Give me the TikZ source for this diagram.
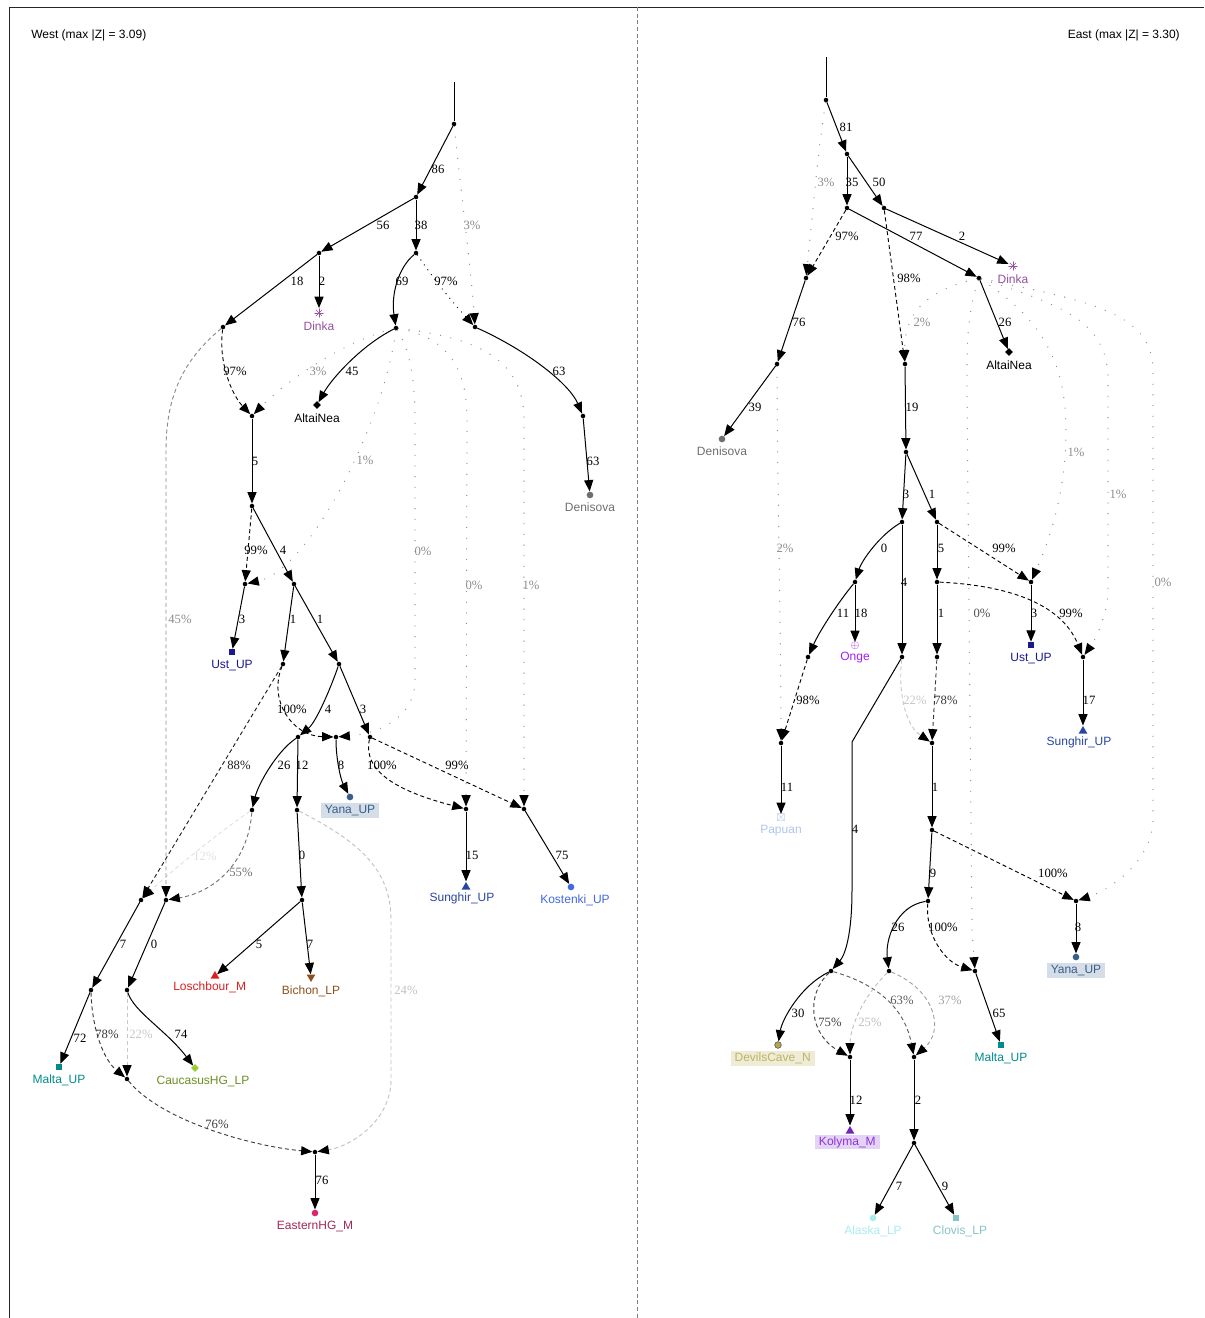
\documentclass[tikz,border=0pt]{standalone}
\usepackage{fontspec}
\setmainfont{Liberation Serif}
\setsansfont{Liberation Sans}
\usepackage{amssymb}
\usetikzlibrary{arrows.meta,positioning,shapes.geometric}

\definecolor{dinka}{RGB}{150,80,160}
\definecolor{ust}{RGB}{25,25,140}
\definecolor{deni}{RGB}{110,110,110}
\definecolor{yana}{RGB}{55,95,135}
\definecolor{yanabg}{RGB}{213,222,232}
\definecolor{sung}{RGB}{40,70,160}
\definecolor{kost}{RGB}{65,105,225}
\definecolor{losch}{RGB}{220,30,30}
\definecolor{bich}{RGB}{140,80,30}
\definecolor{malta}{RGB}{0,139,139}
\definecolor{cauc}{RGB}{154,205,50}
\definecolor{cauct}{RGB}{107,142,35}
\definecolor{ehg}{RGB}{215,40,110}
\definecolor{ehgt}{RGB}{160,40,90}
\definecolor{onge}{RGB}{160,32,240}
\definecolor{papu}{RGB}{176,196,236}
\definecolor{devil}{RGB}{180,165,80}
\definecolor{devilt}{RGB}{190,180,100}
\definecolor{devilbg}{RGB}{238,236,214}
\definecolor{koly}{RGB}{110,40,180}
\definecolor{kolyt}{RGB}{140,50,220}
\definecolor{kolybg}{RGB}{229,211,245}
\definecolor{alas}{RGB}{170,235,240}
\definecolor{clov}{RGB}{135,195,200}

\tikzset{
  pop/.style={circle, fill, inner sep=0pt, minimum size=3.4pt},
  stem/.style={line width=0.75pt},
  drift/.style={line width=0.75pt, -{Triangle[length=8.5pt,width=6.8pt]}},
  mix/.style={draw=black!#1, line width=0.7pt, dash pattern=on 3pt off 2.2pt,
    -{Triangle[length=8.5pt,width=6.8pt,color=black]}},
  trace/.style={draw=black!45, line width=1pt, line cap=round, dash pattern=on 0pt off 8pt,
    -{Triangle[length=8.5pt,width=6.8pt,color=black]}},
  dotline/.style={trace, draw=black, dash pattern=on 0pt off 4.5pt},
  num/.style={font=\fontsize{9.5}{10}\selectfont, inner sep=0pt},
  pct/.style={num, text=black!#1},
  title/.style={font=\sffamily\fontsize{9}{10}\selectfont, inner sep=0pt},
  tag/.style={font=\sffamily\fontsize{9}{10}\selectfont, inner sep=1pt, inner xsep=3pt,
    text height=7pt, text depth=2pt},
  dotm/.style={circle, fill=#1, inner sep=0pt, minimum size=5pt},
  boxm/.style={rectangle, fill=#1, inner sep=0pt, minimum size=4.5pt},
  diam/.style={diamond, fill=#1, inner sep=0pt, minimum size=6pt},
  upm/.style={regular polygon, regular polygon sides=3, fill=#1, inner sep=0pt, minimum size=7.5pt},
  downm/.style={upm=#1, shape border rotate=180},
  spokes/.style={circle, inner sep=0pt, minimum size=7pt,
    path picture={\foreach \a in {0,45,90,135}
      \draw[#1, line width=0.45pt] (path picture bounding box.center) ++(\a:3.5pt) -- ++(\a+180:7pt);}},
}

\begin{document}
\begin{tikzpicture}[x=0.75pt, y=-0.75pt]
\useasboundingbox (0,0) rectangle (1204,1318);

% frame
\draw[black!85, line width=0.6pt] (9,1318) -- (9,7) -- (1204,7);
\draw[black!50, line width=0.6pt, dash pattern=on 3pt off 2pt] (637,7) -- (637,1318);
\node[title, anchor=west] (wtitle) at (31,35) {West (max |Z| = 3.09)};
\node[title, anchor=east] (etitle) at (1180,35) {East (max |Z| = 3.30)};

%%% West
\coordinate (wtop) at (454,82);
\node[pop] (wr) at (454,124) {};
\node[pop] (wa) at (416,197) {};
\node[pop] (wb) at (416,253) {};
\node[pop] (wc) at (319,253) {};
\node[pop] (wd) at (223,327) {};
\node[pop] (we) at (396,328) {};
\node[pop] (wm1) at (475,327) {};
\node[pop] (wf) at (583,416) {};
\node[pop] (wm2) at (252,416) {};
\node[pop] (wg) at (252,506) {};
\node[pop] (wm3) at (245,584) {};
\node[pop] (wh) at (294,584) {};
\node[pop] (wi) at (283,664) {};
\node[pop] (wj) at (339,664) {};
\node[pop] (wk) at (298,737) {};
\node[pop] (wm5) at (336,737) {};
\node[pop] (wl) at (370,737) {};
\node[pop] (wn) at (252,810) {};
\node[pop] (wo) at (297,810) {};
\node[pop] (wm6) at (466,809) {};
\node[pop] (wm8) at (524,809) {};
\node[pop] (wm7) at (141,900) {};
\node[pop] (wm9) at (166,900) {};
\node[pop] (ws) at (302,900) {};
\node[pop] (wp) at (91,990) {};
\node[pop] (wq) at (127,990) {};
\node[pop] (wm10) at (127,1079) {};
\node[pop] (wm11) at (315,1152) {};

% leaves
\node[spokes=dinka] (wdinka) at (319,313) {};
\node[tag, text=dinka, below=1.5pt of wdinka] (wdinka-t) {Dinka};
\node[diam=black] (waltai) at (317,405) {};
\node[tag, below=1.5pt of waltai] (waltai-t) {AltaiNea};
\node[dotm=deni] (wdeni) at (590,495) {};
\node[tag, text=deni, below=1.5pt of wdeni] (wdeni-t) {Denisova};
\node[boxm=ust] (wust) at (232,652) {};
\node[tag, text=ust, below=1.5pt of wust] (wust-t) {Ust\_UP};
\node[dotm=yana] (wyana) at (350,797) {};
\node[tag, text=yana, fill=yanabg, below=1.5pt of wyana] (wyana-t) {Yana\_UP};
\node[upm=sung] (wsung) at (466,887) {};
\node[tag, text=sung, below=0.5pt of wsung, xshift=-3pt] (wsung-t) {Sunghir\_UP};
\node[dotm=kost] (wkost) at (571,887) {};
\node[tag, text=kost, below=1.5pt of wkost, xshift=3pt] (wkost-t) {Kostenki\_UP};
\node[upm=losch] (wlosch) at (215,976) {};
\node[tag, text=losch, below=0.5pt of wlosch, xshift=-4pt] (wlosch-t) {Loschbour\_M};
\node[downm=bich] (wbich) at (311,977) {};
\node[tag, text=bich, below=1pt of wbich] (wbich-t) {Bichon\_LP};
\node[boxm=malta] (wmalta) at (59,1067) {};
\node[tag, text=malta, below=1.5pt of wmalta] (wmalta-t) {Malta\_UP};
\node[diam=cauc] (wcauc) at (195,1068) {};
\node[tag, text=cauct, below=1pt of wcauc, xshift=6pt] (wcauc-t) {CaucasusHG\_LP};
\node[dotm=ehg] (wehg) at (315,1213) {};
\node[tag, text=ehgt, below=1.5pt of wehg] (wehg-t) {EasternHG\_M};

% edges
\draw[stem] (wtop) -- (wr);
\draw[drift] (wr) -- (wa) node[num, at={(438,169)}] {86};
\draw[drift] (wa) -- (wc) node[num, at={(383,225)}] {56};
\draw[drift] (wa) -- (wb) node[num, at={(421,225)}] {38};
\draw[trace] (wr) .. controls (462,200) and (472,280) .. (wm1) node[pct=45, at={(472,225)}] {3\%};
\draw[drift] (wc) -- (wdinka) node[num, at={(322,281)}] {2};
\draw[drift] (wc) -- (wd) node[num, at={(297,281)}] {18};
\draw[drift] (wb) .. controls (398,268) and (391,295) .. (we) node[num, at={(402,281)}] {69};
\draw[dotline] (wb) .. controls (438,285) and (455,305) .. (wm1) node[num, at={(446,281)}] {97\%};
\draw[drift] (wm1) .. controls (530,352) and (570,385) .. (wf) node[num, at={(559,371)}] {63};
\draw[drift] (wf) -- (wdeni) node[num, at={(593,461)}] {63};
\draw[drift] (we) .. controls (362,345) and (332,378) .. (waltai) node[num, at={(352,371)}] {45};
\draw[mix=97] (wd) .. controls (218,362) and (232,395) .. (wm2) node[pct=97, at={(235,371)}] {97\%};
\draw[trace] (we) .. controls (340,342) and (282,385) .. (wm2) node[pct=45, at={(318,371)}] {3\%};
\draw[drift] (wm2) -- (wg) node[num, at={(255,461)}] {5};
\draw[mix=99] (wg) -- (wm3) node[pct=99, at={(256,550)}] {99\%};
\draw[trace] (we) .. controls (385,420) and (310,570) .. (wm3) node[pct=45, at={(365,460)}] {1\%};
\draw[drift] (wg) -- (wh) node[num, at={(283,550)}] {4};
\draw[drift] (wm3) -- (wust) node[num, at={(242,619)}] {3};
\draw[drift] (wh) -- (wi) node[num, at={(293,619)}] {1};
\draw[drift] (wh) -- (wj) node[num, at={(320,619)}] {1};
\draw[mix=100] (wi) .. controls (268,700) and (292,736) .. (wm5) node[pct=100, at={(292,709)}] {100\%};
\draw[trace] (we) .. controls (410,350) and (415,380) .. (415,420) -- (415,680)
  .. controls (415,720) and (375,734) .. (wm5) node[pct=45, at={(423,551)}] {0\%};
\draw[trace] (we) .. controls (450,338) and (467,370) .. (467,420) -- (wm6) node[pct=45, at={(474,585)}] {0\%};
\draw[trace] (we) .. controls (480,338) and (524,360) .. (524,420) -- (wm8) node[pct=45, at={(531,585)}] {1\%};
\draw[drift] (wj) .. controls (330,690) and (316,722) .. (wk) node[num, at={(328,709)}] {4};
\draw[drift] (wj) -- (wl) node[num, at={(363,709)}] {3};
\draw[drift] (wk) .. controls (276,752) and (258,785) .. (wn) node[num, at={(284,765)}] {26};
\draw[drift] (wk) -- (wo) node[num, at={(302,765)}] {12};
\draw[drift] (wm5) .. controls (336,760) and (341,780) .. (wyana) node[num, at={(341,765)}] {8};
\draw[mix=100] (wl) .. controls (362,772) and (400,792) .. (wm6) node[pct=100, at={(382,765)}] {100\%};
\draw[mix=99] (wl) -- (wm8) node[pct=99, at={(457,765)}] {99\%};
\draw[drift] (wm6) -- (wsung) node[num, at={(472,855)}] {15};
\draw[drift] (wm8) -- (wkost) node[num, at={(562,855)}] {75};
\draw[mix=88] (wi) -- (wm7) node[pct=88, at={(239,765)}] {88\%};
\draw[mix=12] (wn) .. controls (222,830) and (170,872) .. (wm7) node[pct=12, at={(205,856)}] {12\%};
\draw[mix=45] (wd) .. controls (186,358) and (166,392) .. (166,450) -- (wm9) node[pct=45, at={(180,619)}] {45\%};
\draw[mix=55] (wn) .. controls (248,862) and (215,892) .. (wm9) node[pct=55, at={(241,872)}] {55\%};
\draw[drift] (wo) -- (ws) node[num, at={(302,855)}] {0};
\draw[drift] (ws) -- (wlosch) node[num, at={(259,944)}] {5};
\draw[drift] (ws) -- (wbich) node[num, at={(310,944)}] {7};
\draw[drift] (wm7) -- (wp) node[num, at={(123,944)}] {7};
\draw[drift] (wm9) -- (wq) node[num, at={(154,944)}] {0};
\draw[drift] (wp) -- (wmalta) node[num, at={(80,1038)}] {72};
\draw[mix=78] (wp) .. controls (92,1030) and (104,1060) .. (wm10) node[pct=78, at={(107,1034)}] {78\%};
\draw[mix=22] (wq) -- (wm10) node[pct=22, at={(141,1034)}] {22\%};
\draw[drift] (wq) .. controls (134,1012) and (166,1030) .. (wcauc) node[num, at={(181,1034)}] {74};
\draw[mix=76] (wm10) .. controls (160,1120) and (250,1146) .. (wm11) node[pct=76, at={(217,1124)}] {76\%};
\draw[mix=24] (wo) .. controls (360,842) and (391,870) .. (391,920) -- (391,1080)
  .. controls (391,1120) and (352,1146) .. (wm11) node[pct=24, at={(406,990)}] {24\%};
\draw[drift] (wm11) -- (wehg) node[num, at={(322,1180)}] {76};

%%% East
\coordinate (etop) at (826,57);
\node[pop] (er) at (826,100) {};
\node[pop] (ea) at (847,154) {};
\node[pop] (eb) at (847,208) {};
\node[pop] (ec) at (884,208) {};
\node[pop] (em1) at (806,278) {};
\node[pop] (ed) at (979,278) {};
\node[pop] (ee) at (777,364) {};
\node[pop] (em2) at (905,364) {};
\node[pop] (ef) at (906,452) {};
\node[pop] (eg) at (902,522) {};
\node[pop] (eh) at (937,522) {};
\node[pop] (ei) at (855,582) {};
\node[pop] (ek) at (937,582) {};
\node[pop] (em4) at (1031,582) {};
\node[pop] (em) at (808,657) {};
\node[pop] (ej) at (902,657) {};
\node[pop] (el) at (937,657) {};
\node[pop] (em5) at (1083,657) {};
\node[pop] (em3) at (781,743) {};
\node[pop] (em6) at (932,743) {};
\node[pop] (eo) at (932,830) {};
\node[pop] (ep) at (928,901) {};
\node[pop] (em7) at (1076,901) {};
\node[pop] (en) at (831,971) {};
\node[pop] (eq) at (889,971) {};
\node[pop] (em8) at (975,971) {};
\node[pop] (em9) at (850,1057) {};
\node[pop] (em10) at (914,1057) {};
\node[pop] (es) at (914,1143) {};

% leaves
\node[spokes=dinka] (edinka) at (1013,266) {};
\node[tag, text=dinka, below=1.5pt of edinka] (edinka-t) {Dinka};
\node[diam=black] (ealtai) at (1009,352) {};
\node[tag, below=1.5pt of ealtai] (ealtai-t) {AltaiNea};
\node[dotm=deni] (edeni) at (722,439) {};
\node[tag, text=deni, below=1.5pt of edeni] (edeni-t) {Denisova};
\node[text=onge, inner sep=0pt, font=\fontsize{8.5}{8.5}\selectfont] (eonge) at (855,646) {$\oplus$};
\node[tag, text=onge, below=0pt of eonge] (eonge-t) {Onge};
\node[boxm=ust] (eust) at (1031,645) {};
\node[tag, text=ust, below=1.5pt of eust] (eust-t) {Ust\_UP};
\node[text=papu, inner sep=0pt, font=\fontsize{8.5}{8.5}\selectfont] (epapu) at (781,818) {$\boxtimes$};
\node[tag, text=papu, below=0pt of epapu] (epapu-t) {Papuan};
\node[upm=sung] (esung) at (1083,731) {};
\node[tag, text=sung, below=0.5pt of esung, xshift=-3pt] (esung-t) {Sunghir\_UP};
\node[dotm=yana] (eyana) at (1076,957) {};
\node[tag, text=yana, fill=yanabg, below=1.5pt of eyana] (eyana-t) {Yana\_UP};
\node[dotm=devil, draw=black!70, line width=0.4pt] (edevil) at (778,1045) {};
\node[tag, text=devilt, fill=devilbg, below=1.5pt of edevil, xshift=-4pt] (edevil-t) {DevilsCave\_N};
\node[boxm=malta] (emalta) at (1001,1045) {};
\node[tag, text=malta, below=1.5pt of emalta] (emalta-t) {Malta\_UP};
\node[upm=koly] (ekoly) at (850,1131) {};
\node[tag, text=kolyt, fill=kolybg, below=0.5pt of ekoly, xshift=-2pt] (ekoly-t) {Kolyma\_M};
\node[dotm=alas] (ealas) at (873,1218) {};
\node[tag, text=alas, below=1.5pt of ealas] (ealas-t) {Alaska\_LP};
\node[boxm=clov] (eclov) at (956,1218) {};
\node[tag, text=clov, below=1.5pt of eclov, xshift=3pt] (eclov-t) {Clovis\_LP};

% edges
\draw[stem] (etop) -- (er);
\draw[drift] (er) -- (ea) node[num, at={(846,127)}] {81};
\draw[trace] (er) .. controls (818,150) and (812,220) .. (em1) node[pct=45, at={(826,182)}] {3\%};
\draw[drift] (ea) -- (eb) node[num, at={(852,182)}] {35};
\draw[drift] (ea) -- (ec) node[num, at={(879,182)}] {50};
\draw[mix=97] (eb) -- (em1) node[pct=97, at={(847,236)}] {97\%};
\draw[drift] (eb) -- (ed) node[num, at={(916,236)}] {77};
\draw[drift] (ec) -- (edinka) node[num, at={(962,236)}] {2};
\draw[mix=98] (ec) -- (em2) node[pct=98, at={(909,278)}] {98\%};
\draw[trace] (ed) .. controls (930,290) and (904,310) .. (em2) node[pct=45, at={(922,322)}] {2\%};
\draw[drift] (ed) -- (ealtai) node[num, at={(1005,322)}] {26};
\draw[drift] (em1) -- (ee) node[num, at={(799,322)}] {76};
\draw[drift] (ee) -- (edeni) node[num, at={(755,407)}] {39};
\draw[trace] (ee) .. controls (777,450) and (781,650) .. (em3) node[pct=45, at={(785,548)}] {2\%};
\draw[drift] (em2) -- (ef) node[num, at={(912,407)}] {19};
\draw[drift] (ef) -- (eg) node[num, at={(906,494)}] {3};
\draw[drift] (ef) -- (eh) node[num, at={(932,494)}] {1};
\draw[drift] (eg) .. controls (880,535) and (862,560) .. (ei) node[num, at={(884,548)}] {0};
\draw[drift] (eg) -- (ej) node[num, at={(904,582)}] {4};
\draw[drift] (eh) -- (ek) node[num, at={(941,548)}] {5};
\draw[mix=99] (eh) -- (em4) node[pct=99, at={(1004,548)}] {99\%};
\draw[trace] (ed) .. controls (1040,318) and (1066,360) .. (1066,430)
  .. controls (1066,500) and (1045,550) .. (em4) node[pct=45, at={(1076,452)}] {1\%};
\draw[drift] (em4) -- (eust) node[num, at={(1034,613)}] {3};
\draw[drift] (ek) -- (el) node[num, at={(941,613)}] {1};
\draw[mix=99] (ek) .. controls (1000,585) and (1060,600) .. (em5) node[pct=99, at={(1071,613)}] {99\%};
\draw[trace] (ed) .. controls (1060,305) and (1108,320) .. (1108,380) -- (1108,590)
  .. controls (1108,615) and (1095,640) .. (em5) node[pct=45, at={(1118,494)}] {1\%};
\draw[drift] (em5) -- (esung) node[num, at={(1089,700)}] {17};
\draw[drift] (ei) -- (eonge) node[num, at={(861,613)}] {18};
\draw[drift] (ei) .. controls (840,600) and (820,630) .. (em) node[num, at={(843,613)}] {11};
\draw[mix=98] (em) -- (em3) node[pct=98, at={(808,700)}] {98\%};
\draw[drift] (em3) -- (epapu) node[num, at={(787,787)}] {11};
\draw[drift] (ej) -- (852,742) -- (852,890) .. controls (852,935) and (845,955) .. (en) node[num, at={(855,829)}] {4};
\draw[mix=78] (el) -- (em6) node[pct=78, at={(946,700)}] {78\%};
\draw[mix=22] (ej) .. controls (898,692) and (905,725) .. (em6) node[pct=22, at={(915,700)}] {22\%};
\draw[drift] (em6) -- (eo) node[num, at={(935,787)}] {1};
\draw[drift] (eo) -- (ep) node[num, at={(933,873)}] {9};
\draw[mix=100] (eo) -- (em7) node[pct=100, at={(1053,873)}] {100\%};
\draw[trace] (ed) .. controls (1080,300) and (1153,310) .. (1153,370) -- (1153,820)
  .. controls (1153,860) and (1110,890) .. (em7) node[pct=45, at={(1163,582)}] {0\%};
\draw[drift] (em7) -- (eyana) node[num, at={(1078,927)}] {8};
\draw[drift] (ep) .. controls (896,906) and (885,940) .. (eq) node[num, at={(898,927)}] {26};
\draw[mix=100] (ep) .. controls (925,935) and (945,962) .. (em8) node[pct=100, at={(943,927)}] {100\%};
\draw[trace] (ed) .. controls (966,318) and (967,350) .. (967,390) -- (972,930) -- (em8) node[pct=70, at={(982,613)}] {0\%};
\draw[drift] (em8) -- (emalta) node[num, at={(999,1013)}] {65};
\draw[drift] (en) .. controls (800,986) and (782,1020) .. (edevil) node[num, at={(798,1013)}] {30};
\draw[mix=75] (en) .. controls (805,995) and (810,1035) .. (em9) node[pct=75, at={(830,1022)}] {75\%};
\draw[mix=63] (en) .. controls (880,985) and (905,1010) .. (em10) node[pct=63, at={(902,1000)}] {63\%};
\draw[mix=25] (eq) .. controls (860,1000) and (850,1030) .. (em9) node[pct=25, at={(870,1022)}] {25\%};
\draw[mix=37] (eq) .. controls (935,990) and (945,1030) .. (em10) node[pct=37, at={(950,1000)}] {37\%};
\draw[drift] (em9) -- (ekoly) node[num, at={(856,1100)}] {12};
\draw[drift] (em10) -- (es) node[num, at={(918,1100)}] {2};
\draw[drift] (es) -- (ealas) node[num, at={(899,1186)}] {7};
\draw[drift] (es) -- (eclov) node[num, at={(945,1186)}] {9};
\end{tikzpicture}
\end{document}
